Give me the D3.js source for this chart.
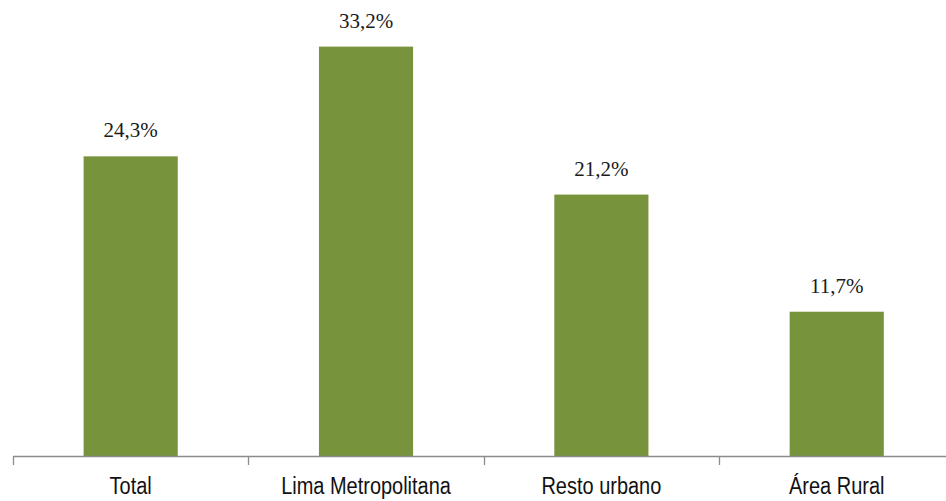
<!DOCTYPE html>
<html>
<head>
<meta charset="utf-8">
<script src="https://cdn.jsdelivr.net/npm/d3@7"></script>
<style>
  html, body { margin: 0; padding: 0; background: #ffffff; }
  svg { display: block; }
</style>
</head>
<body>
<svg id="chart" width="946" height="501"></svg>
<script>
// Share by area of residence
const categories = ["Total", "Lima Metropolitana", "Resto urbano", "Área Rural"];
const values = [24.3, 33.2, 21.2, 11.7];
const valueLabels = ["24,3%", "33,2%", "21,2%", "11,7%"];

const svg = d3.select("#chart");
const baseY = 456;

const x = d3.scaleBand()
  .domain(categories)
  .range([13, 954.4])
  .paddingInner(0.6)
  .paddingOuter(0.3);

const y = d3.scaleLinear()
  .domain([0, 35])
  .range([baseY, 24.4]);

const data = categories.map((c, i) => ({ cat: c, value: values[i], label: valueLabels[i] }));

// Bars
svg.append("g")
  .selectAll("rect")
  .data(data)
  .join("rect")
  .attr("x", d => x(d.cat))
  .attr("y", d => y(d.value))
  .attr("width", x.bandwidth())
  .attr("height", d => y(0) - y(d.value))
  .attr("fill", "#77933c");

// Value labels
svg.append("g")
  .selectAll("text")
  .data(data)
  .join("text")
  .attr("x", d => x(d.cat) + x.bandwidth() / 2)
  .attr("y", d => y(d.value) - 19)
  .attr("text-anchor", "middle")
  .attr("font-family", "'Liberation Serif', 'Times New Roman', serif")
  .attr("font-size", 21)
  .attr("fill", "#1a1a1a")
  .text(d => d.label);

// Category axis with tick marks between bands
const gap = x.step() - x.bandwidth();
const bounds = categories.map(c => x(c) - gap / 2);
bounds.push(x(categories[categories.length - 1]) + x.bandwidth() + gap / 2);

const axis = svg.append("g");
axis.append("line")
  .attr("x1", bounds[0]).attr("x2", bounds[bounds.length - 1])
  .attr("y1", y(0) + 0.5).attr("y2", y(0) + 0.5)
  .attr("stroke", "#8c8c8c").attr("stroke-width", 1.3);
axis.selectAll("line.tick")
  .data(bounds)
  .join("line")
  .attr("class", "tick")
  .attr("x1", d => Math.round(d) + 0.5).attr("x2", d => Math.round(d) + 0.5)
  .attr("y1", y(0)).attr("y2", y(0) + 9)
  .attr("stroke", "#8c8c8c").attr("stroke-width", 1.3);

axis.selectAll("text")
  .data(categories)
  .join("text")
  .attr("transform", d => `translate(${x(d) + x.bandwidth() / 2},494) scale(0.85,1)`)
  .attr("text-anchor", "middle")
  .attr("font-family", "'Liberation Sans', Arial, sans-serif")
  .attr("font-size", 23.5)
  .attr("fill", "#111111")
  .text(d => d);
</script>
</body>
</html>
